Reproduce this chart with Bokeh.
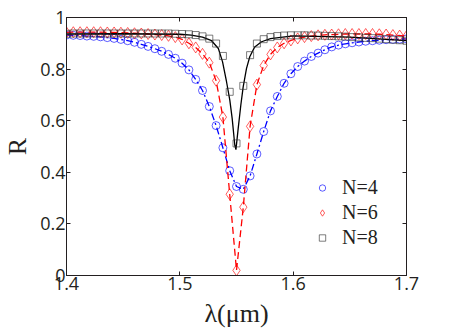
from bokeh.plotting import figure
from bokeh.models import LinearAxis, FixedTicker, Range1d, Legend, LegendItem
from bokeh.embed import file_html
from bokeh.resources import INLINE

# wavelength grid of the markers (um)
lam = [round(1.4 + 0.006 * k, 3) for k in range(51)]

r_n4 = [0.932, 0.931, 0.930, 0.928, 0.927, 0.925, 0.922, 0.919, 0.915, 0.910,
        0.904, 0.896, 0.888, 0.879, 0.869, 0.857, 0.842, 0.823, 0.797, 0.760,
        0.717, 0.655, 0.581, 0.495, 0.406, 0.345, 0.334, 0.386, 0.471, 0.558,
        0.638, 0.694, 0.745, 0.782, 0.810, 0.831, 0.849, 0.862, 0.875, 0.886,
        0.893, 0.898, 0.902, 0.905, 0.908, 0.910, 0.912, 0.914, 0.915, 0.916,
        0.917]

r_n6 = [0.942, 0.943, 0.943, 0.943, 0.943, 0.943, 0.942, 0.942, 0.941, 0.940,
        0.939, 0.938, 0.936, 0.934, 0.932, 0.929, 0.924, 0.915, 0.900, 0.884,
        0.859, 0.825, 0.755, 0.614, 0.315, 0.020, 0.265, 0.578, 0.740, 0.814,
        0.857, 0.884, 0.900, 0.911, 0.919, 0.924, 0.928, 0.931, 0.933, 0.934,
        0.935, 0.936, 0.936, 0.936, 0.936, 0.936, 0.935, 0.934, 0.932, 0.930,
        0.928]

r_n8 = [0.937, 0.938, 0.938, 0.938, 0.938, 0.938, 0.938, 0.938, 0.938, 0.938,
        0.938, 0.938, 0.938, 0.938, 0.938, 0.938, 0.937, 0.936, 0.935, 0.932,
        0.927, 0.918, 0.899, 0.851, 0.712, 0.512, 0.735, 0.854, 0.899, 0.916,
        0.924, 0.928, 0.930, 0.931, 0.931, 0.931, 0.930, 0.930, 0.929, 0.928,
        0.927, 0.926, 0.924, 0.923, 0.921, 0.920, 0.918, 0.916, 0.914, 0.912,
        0.910]

# solid curve for N=8
lam_n8_line = [1.400, 1.450, 1.500, 1.510, 1.520, 1.528, 1.534, 1.5377, 1.5412,
               1.5441, 1.5462, 1.5485, 1.5495, 1.5515, 1.5538, 1.5559, 1.5588,
               1.5617, 1.5661, 1.5721, 1.580, 1.600, 1.650, 1.700]
r_n8_line = [0.936, 0.937, 0.935, 0.932, 0.924, 0.910, 0.880, 0.828, 0.751,
             0.680, 0.608, 0.505, 0.488, 0.570, 0.660, 0.731, 0.802, 0.848,
             0.886, 0.906, 0.918, 0.929, 0.924, 0.910]

x_ticks = [1.4, 1.5, 1.6, 1.7]
y_ticks = [0, 0.2, 0.4, 0.6, 0.8, 1]
y_tick_labels = ["0", "0.2", "0.4", "0.6", "0.8", "1"]
labels = ["N=4", "N=6", "N=8"]

AX = "#231f20"
TICK_FONT = "Open Sans"
SERIF = "Liberation Serif"

p = figure(frame_width=340, frame_height=258,
           min_border_left=59, min_border_right=38, min_border_top=17, min_border_bottom=52,
           x_range=Range1d(1.4, 1.7), y_range=Range1d(0, 1),
           output_backend="svg", toolbar_location=None,
           background_fill_color="white", border_fill_color="white")
p.outline_line_color = AX
p.xgrid.visible = False
p.ygrid.visible = False

for ax in (p.xaxis[0], p.yaxis[0]):
    ax.axis_line_color = AX
    ax.major_tick_line_color = AX
    ax.major_tick_in = 4
    ax.major_tick_out = 0
    ax.minor_tick_line_color = None
    ax.major_label_text_font = TICK_FONT
    ax.major_label_text_font_size = "18px"
    ax.major_label_text_color = AX
    ax.axis_label_text_font = SERIF
    ax.axis_label_text_font_size = "26px"
    ax.axis_label_text_font_style = "normal"
    ax.axis_label_text_color = AX

p.xaxis[0].ticker = FixedTicker(ticks=x_ticks)
p.yaxis[0].ticker = FixedTicker(ticks=y_ticks)
p.yaxis[0].major_label_overrides = {t: l for t, l in zip(y_ticks, y_tick_labels)}
p.xaxis[0].axis_label = "λ(μm)"
p.yaxis[0].axis_label = "R"
p.xaxis[0].major_label_standoff = 1
p.yaxis[0].major_label_standoff = 1
p.xaxis[0].axis_label_standoff = 6
p.yaxis[0].axis_label_standoff = 5

top = LinearAxis(ticker=FixedTicker(ticks=x_ticks),
                 major_label_overrides={t: "" for t in x_ticks},
                 major_tick_in=4, major_tick_out=0, minor_tick_line_color=None,
                 axis_line_color=AX, major_tick_line_color=AX, major_label_standoff=0)
right = LinearAxis(ticker=FixedTicker(ticks=y_ticks),
                   major_label_overrides={t: "" for t in y_ticks},
                   major_tick_in=4, major_tick_out=0, minor_tick_line_color=None,
                   axis_line_color=AX, major_tick_line_color=AX, major_label_standoff=0)
p.add_layout(top, "above")
p.add_layout(right, "right")

BLUE = "#0000ff"
RED = "#ff0000"
BLACK = "#000000"

p.line(lam, r_n4, line_color=BLUE, line_width=1.3, line_dash="7 3 2 3")
s4 = p.scatter(lam, r_n4, marker="circle", size=8, fill_color=None,
               line_color=BLUE, line_width=0.8, line_alpha=0.8)
p.line(lam, r_n6, line_color=RED, line_width=1.3, line_dash="7 4")
s6 = p.scatter(lam, r_n6, marker="diamond", size=11, fill_color=None,
               line_color=RED, line_width=0.8, line_alpha=0.8)
p.line(lam_n8_line, r_n8_line, line_color=BLACK, line_width=1.3)
s8 = p.scatter(lam, r_n8, marker="square", size=7, fill_color=None,
               line_color="#333333", line_width=0.8, line_alpha=0.8)

legend = Legend(items=[LegendItem(label=labels[0], renderers=[s4]),
                       LegendItem(label=labels[1], renderers=[s6]),
                       LegendItem(label=labels[2], renderers=[s8])],
                location=(248, 26), orientation="vertical",
                label_text_font=SERIF, label_text_font_size="20px", label_text_color=AX,
                glyph_width=16, glyph_height=23, label_height=23, spacing=2,
                label_standoff=12, padding=0, margin=0,
                border_line_color=None, background_fill_alpha=0)
p.add_layout(legend, "center")

open("out.html", "w").write(file_html(p, INLINE))
